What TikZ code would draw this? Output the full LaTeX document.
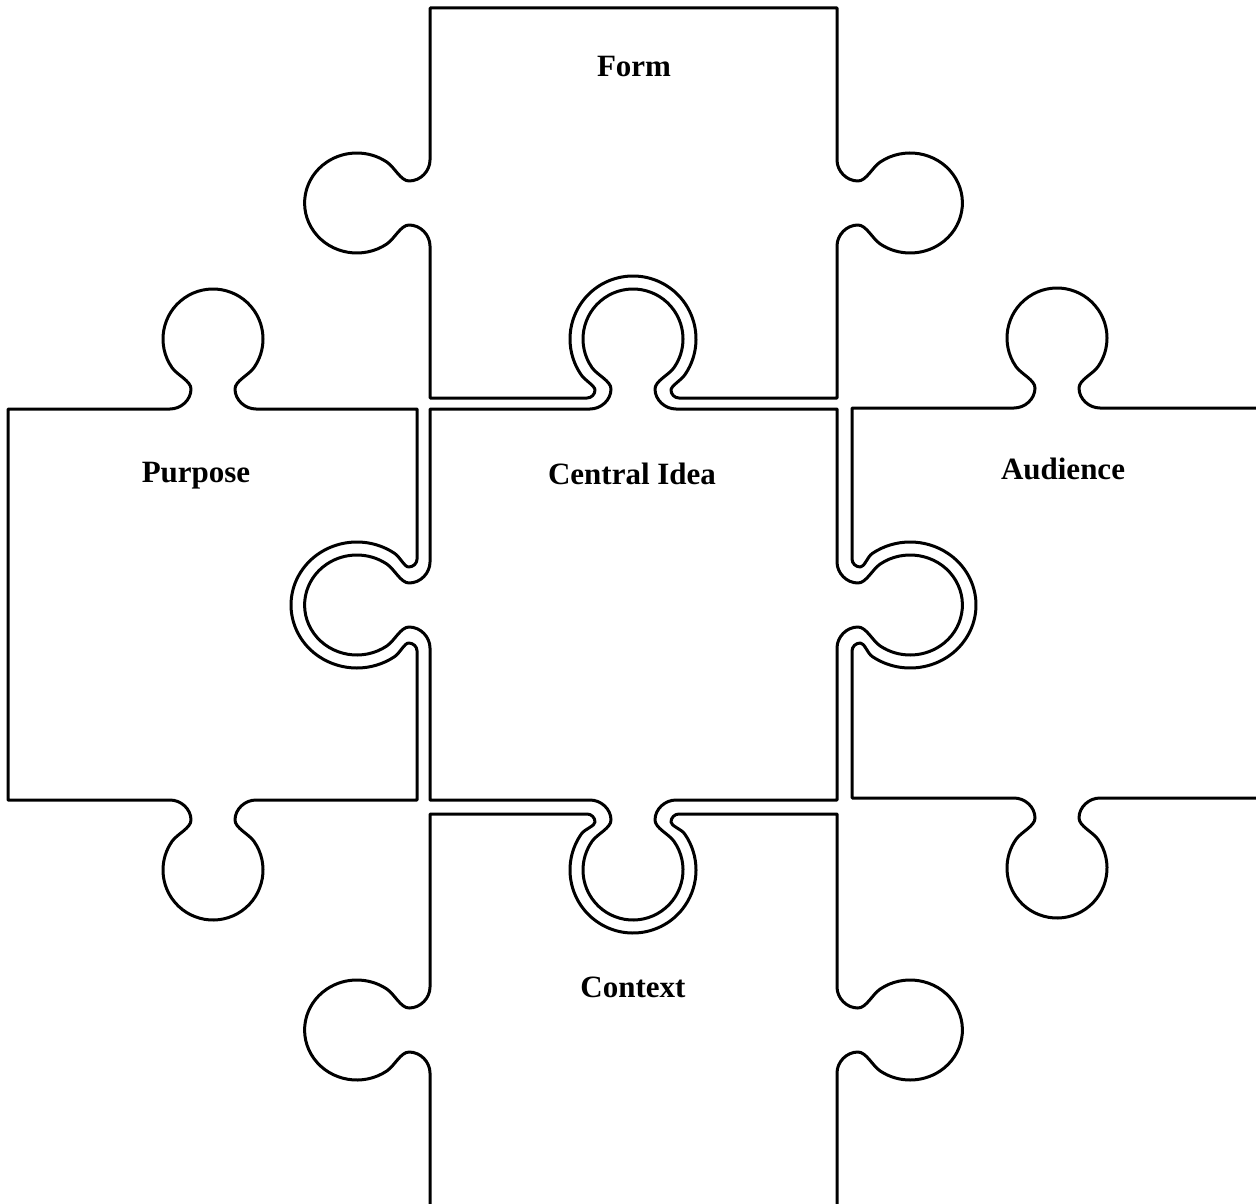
\documentclass[tikz,border=0pt]{standalone}
\usepackage{fontspec}
\setmainfont{Liberation Serif}
% knob (tab) in local frame: edge on v=0, knob pointing to +v
\newcommand\tabpath{-- (-43,0) .. controls (-32,0) and (-22,9) .. (-22,20) .. controls (-22,28) and (-35.8,33.95) .. (-40.96,41.32) arc[start angle=215,end angle=-35,radius=50] .. controls (35.8,33.95) and (22,28) .. (22,20) .. controls (22,9) and (32,0) .. (43,0)}
% matching hole, in the frame of the tab it receives; its edge lies on v=#1
\newcommand\holepath[1]{-- (-46,#1) .. controls (-41.6,#1) and (-38,#1+3.6) .. (-38,#1+8) .. controls (-38,#1+12) and (-48.2,28.95) .. (-51.6,33.86) arc[start angle=215,end angle=-35,radius=63] .. controls (48.2,28.95) and (38,#1+12) .. (38,#1+8) .. controls (38,#1+3.6) and (41.6,#1) .. (46,#1)}
\begin{document}
\begin{tikzpicture}[x=0.5pt,y=0.5pt,yscale=-1,
  piece/.style={draw=black,line width=1.5pt,line join=round},
  label/.style={font=\fontsize{15.5}{18}\selectfont\bfseries,anchor=base}]
\useasboundingbox (0,0) rectangle (1256,1203);
\clip (0,0) rectangle (1256,1203);
% Form
\draw[piece] (430,8) -- (837,8)
  {[shift={(837,203)},rotate=-90,xscale=-1,yscale=1.045] \tabpath} -- (837,398)
  {[shift={(633,409)},rotate=180] \holepath{11}} -- (430,398)
  {[shift={(430,203)},rotate=90,xscale=-1,yscale=1.045] \tabpath} -- cycle;
% Purpose
\draw[piece] (8,409)
  {[shift={(213,409)},rotate=180,xscale=-1] \tabpath} -- (417,409)
  {[shift={(430,605)},rotate=90,yscale=1.045] \holepath{12.4}} -- (417,800)
  {[shift={(213,800)},xscale=-1] \tabpath} -- (8,800) -- cycle;
% Central Idea
\draw[piece] (430,409)
  {[shift={(633,409)},rotate=180,xscale=-1] \tabpath} -- (837,409)
  {[shift={(837,605)},rotate=-90,xscale=-1,yscale=1.045] \tabpath} -- (837,800)
  {[shift={(633,800)},xscale=-1] \tabpath} -- (430,800)
  {[shift={(430,605)},rotate=90,xscale=-1,yscale=1.045] \tabpath} -- cycle;
% Audience
\draw[piece] (852,408)
  {[shift={(1057,408)},rotate=180,xscale=-1] \tabpath} -- (1275,408) -- (1275,798)
  {[shift={(1057,798)},xscale=-1] \tabpath} -- (852,798)
  {[shift={(837,605)},rotate=-90,yscale=1.045] \holepath{14.35}} -- cycle;
% Context
\draw[piece] (430,814)
  {[shift={(633,800)}] \holepath{14}} -- (837,814)
  {[shift={(837,1030)},rotate=-90,xscale=-1,yscale=1.045] \tabpath} -- (837,1220) -- (430,1220)
  {[shift={(430,1030)},rotate=90,xscale=-1,yscale=1.045] \tabpath} -- cycle;
% labels
\node[label] (form) at (634,77) {Form};
\node[label] (purpose) at (196,482) {Purpose};
\node[label] (central) at (632,484) {Central Idea};
\node[label] (audience) at (1063,479) {Audience};
\node[label] (context) at (633,997) {Context};
\end{tikzpicture}
\end{document}
